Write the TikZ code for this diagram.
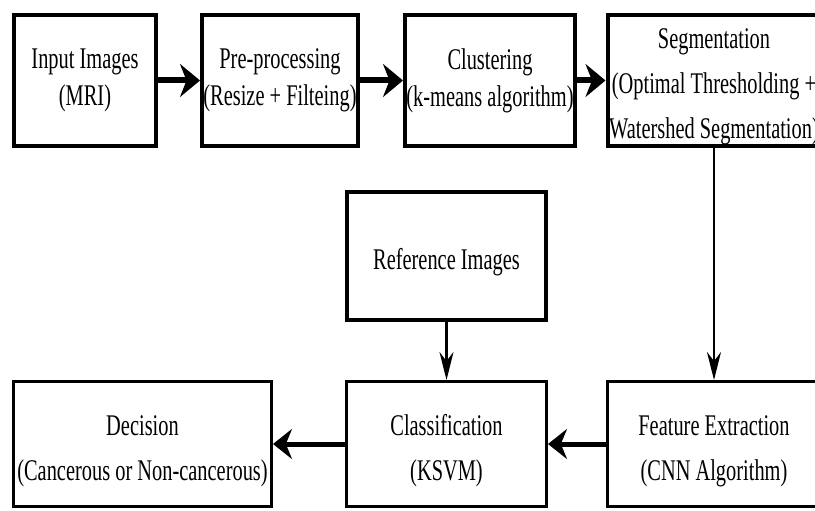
\documentclass[tikz,border=0pt]{standalone}
\usepackage{fontspec}
\setmainfont{Liberation Serif}[FakeStretch=0.68]
\usetikzlibrary{arrows.meta}
\newcommand{\lowgap}[1]{\rule{0pt}{#1}}

\begin{document}
\begin{tikzpicture}[x=1pt,y=-1pt,
  stage/.style={draw,line width=4pt,inner sep=0pt,align=center,
    minimum height=131pt,font=\fontsize{30}{37}\selectfont},
  lower/.style={stage,line width=3pt,minimum height=125pt,
    font=\fontsize{30}{45}\selectfont},
  flow/.style={line width=6pt,-{Stealth[length=20pt,width=33pt]}},
  back/.style={line width=5pt,-{Stealth[length=19pt,width=30pt]}},
  drop/.style={line width=2.5pt,-{Stealth[length=28pt,width=14pt]}}]
  \useasboundingbox (0,0) rectangle (815,511);
  \fill[white] (0,0) rectangle (815,511);
  \clip (0,0) rectangle (815,511);

  % top row
  \node[stage,minimum width=142pt] (inp) at (85,80.5) {Input Images\\(MRI)};
  \node[stage,minimum width=156pt] (pre) at (280,80.5) {Pre-processing\\(Resize + Filteing)};
  \node[stage,minimum width=170pt] (clu) at (490,80.5) {Clustering\\(k-means algorithm)};
  \node[stage,minimum width=213pt,font=\fontsize{30}{45}\selectfont] (seg) at (714,80.5)
    {\lowgap{32pt}Segmentation\\(Optimal Thresholding +\\Watershed Segmentation)};

  % reference and bottom row
  \node[lower,line width=3.5pt,minimum width=199pt,minimum height=128pt] (ref) at (446.5,256)
    {\lowgap{34pt}Reference Images};
  \node[lower,minimum width=200pt] (cls) at (446.5,444) {\lowgap{34pt}Classification\\(KSVM)};
  \node[lower,minimum width=258pt] (dec) at (142.5,444) {\lowgap{34pt}Decision\\(Cancerous or Non-cancerous)};
  \node[lower,minimum width=213pt] (fea) at (714,444) {\lowgap{34pt}Feature Extraction\\(CNN Algorithm)};

  \draw[flow] (inp) -- (pre);
  \draw[flow] (pre) -- (clu);
  \draw[flow] (clu) -- (seg);
  \draw[drop] (seg) -- (fea);
  \draw[drop] (ref) -- (cls);
  \draw[back] (fea) -- (cls);
  \draw[back] (cls) -- (dec);
\end{tikzpicture}
\end{document}
